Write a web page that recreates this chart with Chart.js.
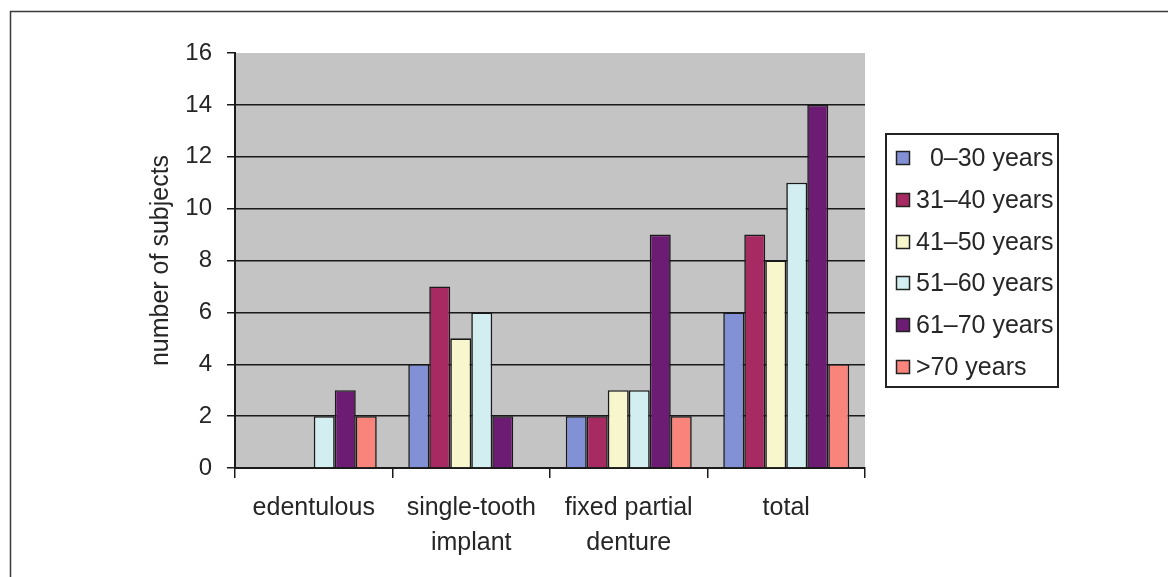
<!DOCTYPE html>
<html>
<head>
<meta charset="utf-8">
<script src="https://cdn.jsdelivr.net/npm/chart.js@4/dist/chart.umd.min.js"></script>
<style>
  html, body { margin: 0; padding: 0; background: #ffffff; }
  #wrap { width: 1168px; height: 577px; position: relative; }
</style>
</head>
<body>
<div id="wrap"><canvas id="c" width="1168" height="577"></canvas></div>
<script>
// Categories (x axis) – multi-line labels
const categories = [
  ['edentulous'],
  ['single-tooth', 'implant'],
  ['fixed partial', 'denture'],
  ['total']
];

// Age groups (series)
const ageGroups = ['  0\u201330 years', '31\u201340 years', '41\u201350 years', '51\u201360 years', '61\u201370 years', '>70 years'];

// Number of subjects per category for each age group
const age0to30  = [0, 4, 2, 6];
const age31to40 = [0, 7, 2, 9];
const age41to50 = [0, 5, 3, 8];
const age51to60 = [2, 6, 3, 11];
const age61to70 = [3, 2, 9, 14];
const ageOver70 = [2, 0, 2, 4];

// Y axis ticks
const yTicks = [0, 2, 4, 6, 8, 10, 12, 14, 16];

const seriesValues = [age0to30, age31to40, age41to50, age51to60, age61to70, ageOver70];
const seriesColors = ['#8291d6', '#a82a62', '#f8f6cc', '#d2eef0', '#6c1c72', '#f8847c'];

const FONT = '"Liberation Sans", Arial, sans-serif';
const TEXT = '#262626';

// Grey plot background, outer frame and boxed legend
const decor = {
  id: 'decor',
  beforeDraw(chart) {
    const { ctx, chartArea: a } = chart;
    ctx.save();
    ctx.fillStyle = '#c4c4c4';
    ctx.fillRect(a.left, a.top, a.right - a.left, a.bottom - a.top);
    ctx.restore();
  },
  afterDraw(chart) {
    const ctx = chart.ctx;
    ctx.save();
    // outer frame (top and left edges)
    ctx.strokeStyle = '#3a3a3a';
    ctx.lineWidth = 1.5;
    ctx.beginPath();
    ctx.moveTo(1168, 11.5);
    ctx.lineTo(10.5, 11.5);
    ctx.lineTo(10.5, 577);
    ctx.stroke();

    // legend box
    const lx = 886, ly = 134, lw = 172, lh = 253;
    ctx.strokeStyle = '#222222';
    ctx.lineWidth = 2;
    ctx.strokeRect(lx, ly, lw, lh);
    ctx.font = '25px ' + FONT;
    ctx.textBaseline = 'middle';
    const rowY = [158, 200, 242, 283, 325, 367];
    chart.data.datasets.forEach((ds, i) => {
      const y = rowY[i];
      ctx.fillStyle = ds.backgroundColor;
      ctx.fillRect(896, y - 7, 14, 14);
      ctx.strokeStyle = '#222222';
      ctx.lineWidth = 1.5;
      ctx.strokeRect(896.5, y - 6.5, 13, 13);
      ctx.fillStyle = TEXT;
      ctx.fillText(ds.label, 916, y + 1);
    });
    ctx.restore();
  }
};

const datasets = ageGroups.map((name, i) => ({
  label: name,
  data: seriesValues[i],
  backgroundColor: seriesColors[i],
  borderColor: '#1a1a1a',
  borderWidth: 1.6,
  borderSkipped: 'bottom',
  categoryPercentage: 0.8,
  barPercentage: 1.0
}));

new Chart(document.getElementById('c'), {
  type: 'bar',
  data: { labels: categories, datasets },
  options: {
    responsive: false,
    animation: false,
    devicePixelRatio: 1,
    layout: { padding: { left: 10, right: 303, top: 53, bottom: 0 } },
    plugins: {
      legend: { display: false },
      tooltip: { enabled: false }
    },
    scales: {
      x: {
        offset: true,
        grid: {
          offset: true,
          drawOnChartArea: false,
          drawTicks: true,
          tickLength: 10,
          color: '#1a1a1a',
          lineWidth: 1.5
        },
        border: { color: '#1a1a1a', width: 2 },
        ticks: {
          color: TEXT,
          font: { family: FONT, size: 25, lineHeight: 1.4 },
          padding: 13,
          maxRotation: 0,
          autoSkip: false
        },
        afterFit(s) { s.height = 109; }
      },
      y: {
        min: 0,
        max: 16,
        afterBuildTicks(s) { s.ticks = yTicks.map(v => ({ value: v })); },
        grid: {
          color: ctx => (ctx.tick && ctx.tick.value === 16) ? 'rgba(0,0,0,0)' : '#1a1a1a',
          tickColor: '#1a1a1a',
          lineWidth: 1.5,
          tickLength: 8,
          drawTicks: true
        },
        border: { color: '#1a1a1a', width: 2 },
        ticks: {
          color: TEXT,
          font: { family: FONT, size: 24 },
          padding: 15
        },
        title: {
          display: true,
          text: 'number of subjects',
          color: TEXT,
          font: { family: FONT, size: 25 },
          padding: { top: 136, bottom: 0 }
        },
        afterFit(s) { s.width = 225; }
      }
    }
  },
  plugins: [decor]
});
</script>
</body>
</html>
